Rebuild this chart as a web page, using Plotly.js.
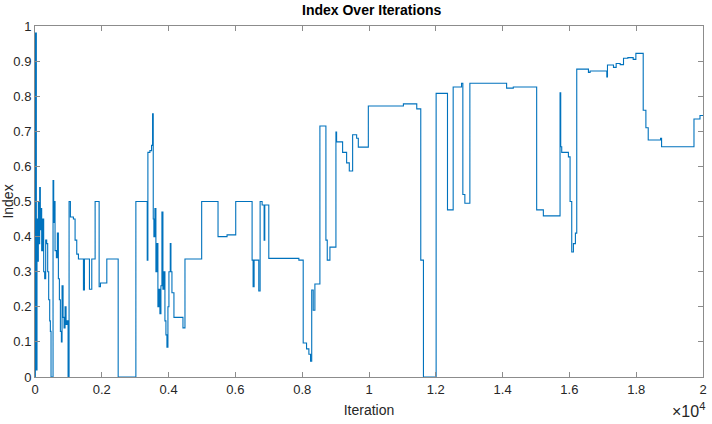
<!DOCTYPE html>
<html>
<head>
<meta charset="utf-8">
<script src="https://cdn.plot.ly/plotly-3.0.1.min.js"></script>
<style>
html,body{margin:0;padding:0;background:#fff;}
#chart{width:712px;height:424px;}
</style>
</head>
<body>
<div id="chart"></div>
<script>
// Data (iteration where a level starts, index value)
const iterations = [
  0, 10, 40, 60, 80, 100, 120, 140, 160, 180, 200, 230, 260, 290, 320, 350, 380, 410, 440, 460,
  480, 540, 560, 580, 600, 640, 670, 700, 730, 760, 790, 810, 840, 870, 900, 930, 960, 990,
  1020, 1060, 1150, 1200, 1250, 1300, 1450, 1480, 1630, 1700, 1800, 1920, 1960, 2150, 2490,
  3020, 3360, 3380, 3440, 3490, 3520, 3540, 3560, 3590, 3620, 3650, 3680, 3710, 3740, 3770,
  3800, 3830, 3860, 3890, 3920, 3950, 3980, 4010, 4050, 4070, 4100, 4160, 4430, 4490,
  4990, 5480, 5750, 6010, 6500, 6530, 6560, 6700, 6740, 6800, 6860, 6880, 7000, 7900,
  8030, 8130, 8200, 8250, 8285, 8330, 8380, 8530, 8710, 8750, 8830, 9010, 9030, 9210,
  9330, 9410, 9510, 9630, 9680, 9980, 11030, 11430, 11550, 11630, 12010, 12350, 12520,
  12770, 12810, 12870, 13020, 14120, 14320, 15020, 15220, 15720, 15740, 15770, 15970,
  16020, 16070, 16120, 16180, 16220, 16570, 16620, 17120, 17140, 17320, 17400, 17520,
  17620, 17750, 17910, 17990, 18210, 18290, 18360, 18730, 18760, 19730, 19910, 20000
];
const indexValues = [
  0.00, 0.98, 0.02, 0.45, 0.33, 0.50, 0.38, 0.54, 0.42, 0.48, 0.36, 0.45, 0.30, 0.28, 0.39, 0.38, 0.30, 0.22, 0.16, 0.13,
  0.00, 0.56, 0.44, 0.50, 0.36, 0.34, 0.41, 0.28, 0.22, 0.13, 0.10, 0.26, 0.17, 0.14, 0.20, 0.15, 0.16, 0.00,
  0.50, 0.456, 0.45, 0.39, 0.35, 0.336, 0.248, 0.336, 0.25, 0.336, 0.50, 0.257, 0.268, 0.336, 0.00,
  0.50, 0.333, 0.64, 0.645, 0.66, 0.75, 0.45, 0.40, 0.48, 0.30, 0.38, 0.20, 0.25, 0.18, 0.26,
  0.47, 0.25, 0.30, 0.16, 0.12, 0.085, 0.20, 0.30, 0.38, 0.30, 0.24, 0.17, 0.14, 0.336,
  0.50, 0.40, 0.405, 0.50, 0.333, 0.257, 0.333, 0.245, 0.50, 0.49, 0.39, 0.49, 0.338, 0.333,
  0.097, 0.08, 0.065, 0.045, 0.248, 0.19, 0.265, 0.715, 0.39, 0.333, 0.37, 0.698, 0.67, 0.64,
  0.61, 0.587, 0.69, 0.68, 0.655, 0.772, 0.778, 0.764, 0.333, 0.00, 0.808, 0.476, 0.826,
  0.837, 0.52, 0.495, 0.837, 0.823, 0.826, 0.476, 0.459, 0.81, 0.656, 0.64, 0.627,
  0.50, 0.356, 0.38, 0.41, 0.877, 0.868, 0.872, 0.855, 0.889, 0.882, 0.893, 0.89,
  0.908, 0.91, 0.905, 0.922, 0.76, 0.71, 0.675, 0.68, 0.656, 0.735, 0.745, 0.745
];
const xTickVals = [0, 2000, 4000, 6000, 8000, 10000, 12000, 14000, 16000, 18000, 20000];
const xTickText = ["0", "0.2", "0.4", "0.6", "0.8", "1", "1.2", "1.4", "1.6", "1.8", "2"];
const yTickVals = [0, 0.1, 0.2, 0.3, 0.4, 0.5, 0.6, 0.7, 0.8, 0.9, 1];
const yTickText = ["0", "0.1", "0.2", "0.3", "0.4", "0.5", "0.6", "0.7", "0.8", "0.9", "1"];

const font = "Liberation Sans, Arial, Helvetica, sans-serif";
const axisCommon = {
  showline: true, linecolor: '#8c8c8c', linewidth: 1, mirror: 'ticks',
  ticks: 'inside', ticklen: 5, tickcolor: '#8c8c8c', tickwidth: 1,
  showgrid: false, zeroline: false,
  tickfont: {family: font, size: 13, color: '#262626'}
};

Plotly.newPlot('chart', [{
  x: iterations, y: indexValues, type: 'scatter', mode: 'lines',
  line: {color: '#0072BD', width: 1.1, shape: 'hv'}, hoverinfo: 'skip'
}], {
  width: 712, height: 424,
  margin: {l: 35, r: 9, t: 26, b: 47},
  paper_bgcolor: '#fff', plot_bgcolor: '#fff',
  showlegend: false,
  title: {text: '<b>Index Over Iterations</b>', x: 0.522, xanchor: 'center', y: 0.977, yanchor: 'middle',
    font: {family: font, size: 14, color: '#000'}},
  xaxis: Object.assign({}, axisCommon, {
    range: [0, 20000], tickvals: xTickVals, ticktext: xTickText,
    title: {text: 'Iteration', standoff: 9, font: {family: font, size: 14, color: '#262626'}}
  }),
  yaxis: Object.assign({}, axisCommon, {
    range: [0, 1], tickvals: yTickVals, ticktext: yTickText,
    title: {text: 'Index', standoff: 0, font: {family: font, size: 14, color: '#262626'}}
  }),
  annotations: [{
    xref: 'paper', yref: 'paper', x: 1.006, y: -0.095, xanchor: 'right', yanchor: 'middle',
    text: '×10<sup>4</sup>', showarrow: false, font: {family: font, size: 16, color: '#262626'}
  }]
}, {staticPlot: true});
</script>
</body>
</html>
